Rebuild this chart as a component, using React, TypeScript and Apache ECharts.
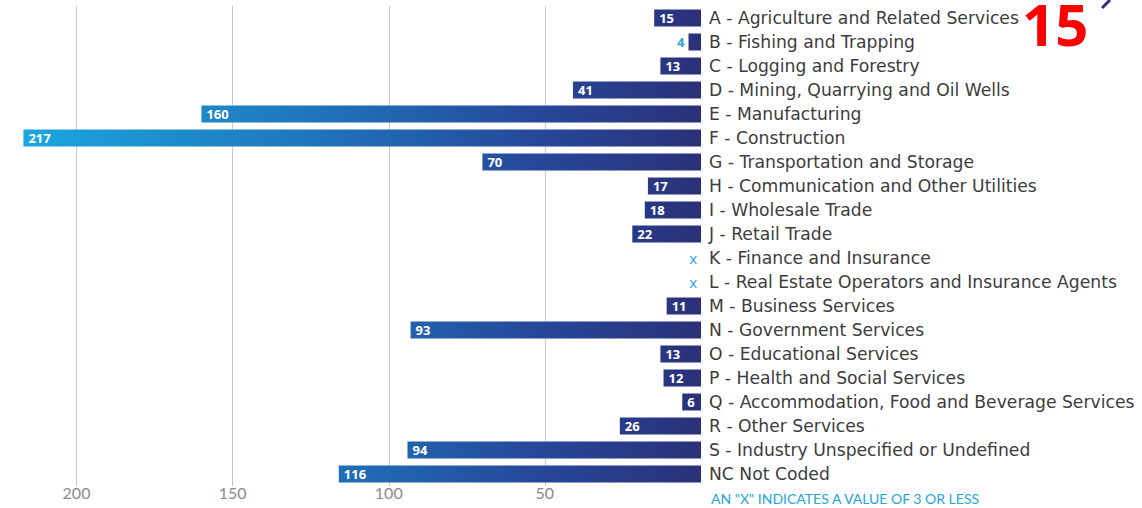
import React, { useEffect, useRef } from "react";
import * as echarts from "echarts";

const categories = [
  "A - Agriculture and Related Services",
  "B - Fishing and Trapping",
  "C - Logging and Forestry",
  "D - Mining, Quarrying and Oil Wells",
  "E - Manufacturing",
  "F - Construction",
  "G - Transportation and Storage",
  "H - Communication and Other Utilities",
  "I - Wholesale Trade",
  "J - Retail Trade",
  "K - Finance and Insurance",
  "L - Real Estate Operators and Insurance Agents",
  "M - Business Services",
  "N - Government Services",
  "O - Educational Services",
  "P - Health and Social Services",
  "Q - Accommodation, Food and Beverage Services",
  "R - Other Services",
  "S - Industry Unspecified or Undefined",
  "NC Not Coded",
];

// null = "x" (a value of 3 or less)
const values: (number | null)[] = [15, 4, 13, 41, 160, 217, 70, 17, 18, 22, null, null, 11, 93, 13, 12, 6, 26, 94, 116];

const tickValues = [50, 100, 150, 200];
const pageNumber = "15";
const footnote = 'AN "X" INDICATES A VALUE OF 3 OR LESS';

export default function App() {
  const ref = useRef<HTMLDivElement>(null);
  useEffect(() => {
    if (!ref.current) return;
    const chart = echarts.init(ref.current, null, { renderer: "svg" });
    const grad = new echarts.graphic.LinearGradient(
      22, 0, 702, 0,
      [
        { offset: 0, color: "#1ba6e0" },
        { offset: 0.45, color: "#1f72b8" },
        { offset: 0.75, color: "#26489a" },
        { offset: 1, color: "#2b3079" },
      ],
      true
    );
    const lightBlue = "#22a6dc";
    const data = values.map((v) => {
      if (v === null) {
        return {
          value: 0,
          label: { show: true, position: "left", distance: 4, formatter: "x", color: lightBlue, fontWeight: "normal", fontSize: 15 },
        };
      }
      if (v < 5) {
        return {
          value: v,
          label: { show: true, position: "left", distance: 4, color: lightBlue, fontWeight: "bold", fontSize: 13 },
        };
      }
      return { value: v };
    });
    chart.setOption({
      animation: false,
      grid: { left: 0, right: 441, top: 6, bottom: 22, containLabel: false },
      xAxis: {
        type: "value",
        inverse: true,
        min: 0,
        max: 224.5,
        interval: 50,
        axisLine: { show: false },
        axisTick: { show: false },
        splitLine: { show: true, showMinLine: false, showMaxLine: false, lineStyle: { color: "#c9c9c9", width: 1 } },
        axisLabel: {
          margin: -2,
          fontSize: 16,
          color: "#8a8a8a",
          fontFamily: "Lato",
          showMinLabel: false,
          showMaxLabel: false,
          formatter: (v: number) => (tickValues.includes(v) ? String(v) : ""),
        },
      },
      yAxis: {
        type: "category",
        data: categories,
        inverse: true,
        position: "right",
        axisLine: { show: false },
        axisTick: { show: false },
        axisLabel: { margin: 8, fontSize: 17.2, color: "#3c3c3c", fontFamily: "DejaVu Sans", padding: [2, 0, 0, 0] },
      },
      series: [
        {
          type: "bar",
          data,
          barWidth: 17,
          itemStyle: { color: grad },
          label: {
            show: true,
            position: "insideLeft",
            distance: 5,
            color: "#ffffff",
            fontWeight: "bold",
            fontSize: 13,
            fontFamily: "Open Sans",
          },
        },
      ],
      graphic: [
        {
          type: "text",
          x: 1022,
          y: 23,
          style: { text: pageNumber, fill: "#ff0000", font: "bold 58px 'Open Sans'", textVerticalAlign: "middle" },
        },
        {
          type: "line",
          shape: { x1: 1102, y1: 8, x2: 1110, y2: 0 },
          style: { stroke: "#2b3079", lineWidth: 3 },
        },
        {
          type: "text",
          left: 711,
          top: 491,
          style: { text: footnote, fill: lightBlue, font: "14px Lato" },
        },
      ],
    });
    return () => chart.dispose();
  }, []);
  return <div ref={ref} style={{ position: "fixed", left: 0, top: 0, width: 1142, height: 508, background: "#fff" }} />;
}
